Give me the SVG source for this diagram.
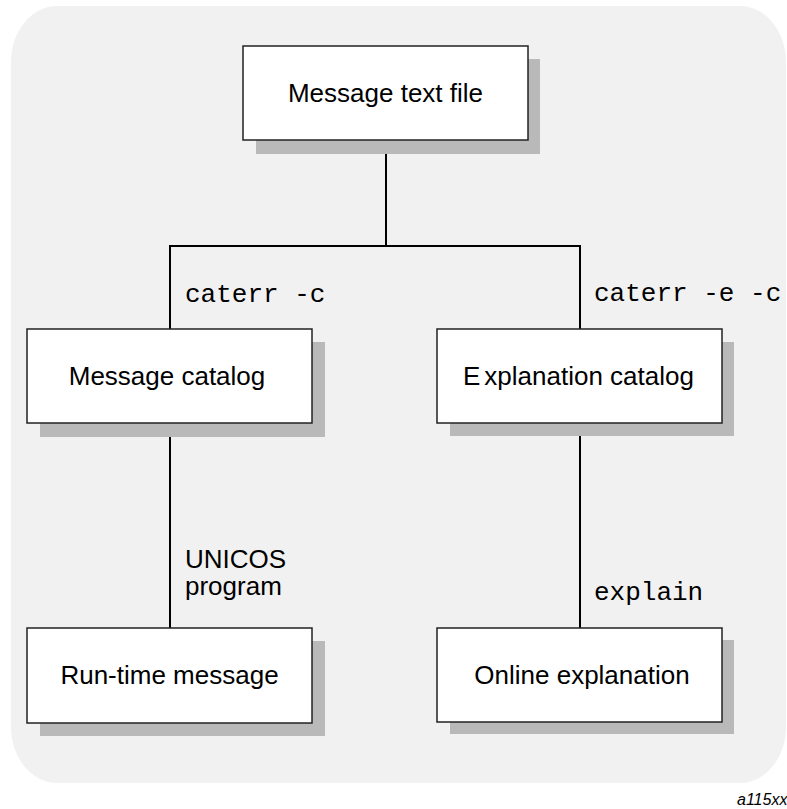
<svg xmlns="http://www.w3.org/2000/svg" width="787" height="809" viewBox="0 0 787 809">
<style>
.bg{fill:#f1f1f1}
.shadow{fill:#b9b9b9}
.box{fill:#ffffff;stroke:#222;stroke-width:1.5}
.lbl{font-family:"Liberation Sans",Arial,sans-serif;font-size:26px;fill:#000;text-anchor:middle}
.side{font-family:"Liberation Sans",Arial,sans-serif;font-size:26px;fill:#000}
.mono{font-family:"Liberation Mono","Courier New",monospace;font-size:26px;fill:#000}
.conn{stroke:#000;stroke-width:2;fill:none}
.tag{font-family:"Liberation Sans",Arial,sans-serif;font-size:16px;font-style:italic;fill:#000}
</style>
<rect class="bg" x="11" y="6" width="775" height="777" rx="46" ry="56"/>
<g id="connectors">
<line class="conn" x1="386" y1="140" x2="386" y2="246"/>
<polyline class="conn" points="170,329 170,246 580,246 580,329"/>
<line class="conn" x1="170" y1="423" x2="170" y2="628"/>
<line class="conn" x1="580" y1="423" x2="580" y2="628"/>
<text class="mono" x="185" y="302">caterr -c</text>
<text class="mono" x="594" y="301">caterr -e -c</text>
<text class="side" x="185" y="568">UNICOS</text>
<text class="side" x="185" y="595">program</text>
<text class="mono" x="594" y="600">explain</text>
</g>
<g id="message-text-file">
<rect class="shadow" x="256" y="59" width="284" height="95"/>
<rect class="box" x="243" y="46" width="285" height="94"/>
<text class="lbl" x="385.5" y="102">Message text file</text>
</g>
<g id="message-catalog">
<rect class="shadow" x="40" y="342" width="285" height="95"/>
<rect class="box" x="27" y="329" width="285" height="94"/>
<text class="lbl" x="167" y="385">Message catalog</text>
</g>
<g id="explanation-catalog">
<rect class="shadow" x="450" y="342" width="284" height="94"/>
<rect class="box" x="437" y="329" width="285" height="94"/>
<text class="lbl" x="578.5" y="385">E<tspan dx="4">xplanation catalog</tspan></text>
</g>
<g id="run-time-message">
<rect class="shadow" x="40" y="641" width="285" height="95"/>
<rect class="box" x="27" y="628" width="285" height="95"/>
<text class="lbl" x="169.5" y="684">Run-time message</text>
</g>
<g id="online-explanation">
<rect class="shadow" x="450" y="640" width="284" height="94"/>
<rect class="box" x="437" y="628" width="285" height="94"/>
<text class="lbl" x="582" y="684">Online explanation</text>
</g>
<text class="tag" x="737" y="805">a115xx</text>
</svg>
